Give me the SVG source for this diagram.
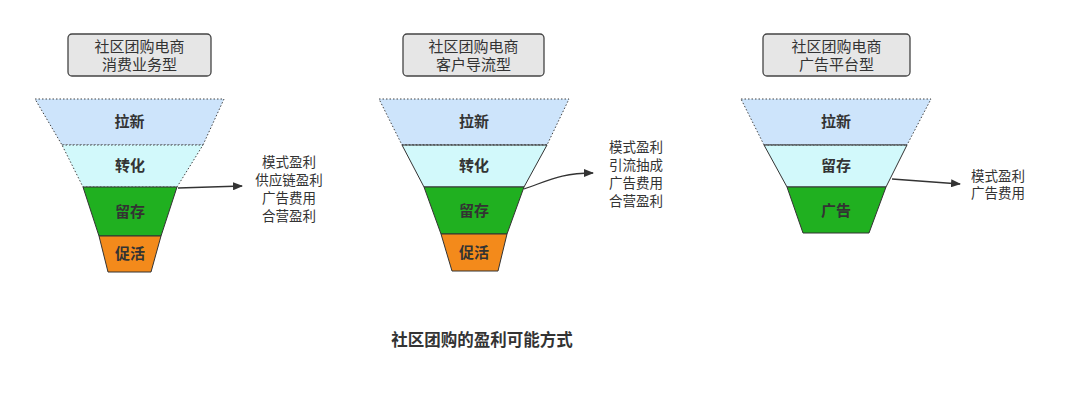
<svg xmlns="http://www.w3.org/2000/svg" width="1080" height="404" viewBox="0 0 1080 404">
<style>
text{font-family:"Liberation Sans","Noto Sans CJK SC",sans-serif;fill:#333;}
.title rect{fill:#e6e6e6;stroke:#444;stroke-width:1.3;}
.title text{font-size:15px;text-anchor:middle;}
.lbl{font-size:15px;font-weight:bold;text-anchor:middle;}
.note{font-size:13.5px;text-anchor:middle;}
.l1{fill:#cde4fb;stroke:#444;stroke-width:1;stroke-dasharray:1.5 2;}
.l2{fill:#d2f9fb;stroke:#444;stroke-width:1;stroke-dasharray:1.5 2;}
.l2s{fill:#d2f9fb;stroke:#333;stroke-width:1;}
.l3{fill:#20b020;stroke:#333;stroke-width:1;}
.l4{fill:#f38a1b;stroke:#333;stroke-width:1;}
.conn path{fill:none;stroke:#333;stroke-width:1.3;marker-end:url(#ah);}
</style>
<defs>
<marker id="ah" markerWidth="10" markerHeight="8" refX="9" refY="4" orient="auto" markerUnits="userSpaceOnUse">
<path d="M0,0 L10,4 L0,8 Z" fill="#333"/>
</marker>
</defs>
<rect width="1080" height="404" fill="#fff"/>

<g id="funnel1">
<g class="title" id="title1"><rect x="68" y="34" width="143" height="42" rx="4"/><text x="139.5" y="52">社区团购电商</text><text x="139.5" y="70">消费业务型</text></g>
<g id="f1-lx"><polygon class="l1" points="35,99 224,99 203,145 62,145"/><text class="lbl" x="129.5" y="127">拉新</text></g>
<g id="f1-zh"><polygon class="l2" points="62,145 203,145 177,187 83,187"/><text class="lbl" x="130" y="171">转化</text></g>
<g id="f1-lc"><polygon class="l3" points="83,187 177,187 161,236 99,236"/><text class="lbl" x="130" y="217">留存</text></g>
<g id="f1-ch"><polygon class="l4" points="99,236 161,236 151,272 108,272"/><text class="lbl" x="130" y="259">促活</text></g>
</g>
<g id="note1"><text class="note" x="289" y="167">模式盈利</text><text class="note" x="289" y="185">供应链盈利</text><text class="note" x="289" y="203">广告费用</text><text class="note" x="289" y="221">合营盈利</text></g>

<g id="funnel2">
<g class="title" id="title2"><rect x="403" y="34" width="141" height="42" rx="4"/><text x="473.5" y="52">社区团购电商</text><text x="473.5" y="70">客户导流型</text></g>
<g id="f2-lx"><polygon class="l1" points="379,99 569,99 547,145 402,145"/><text class="lbl" x="474" y="127">拉新</text></g>
<g id="f2-zh"><polygon class="l2s" points="402,145 547,145 524,187 424,187"/><line x1="402" y1="145" x2="547" y2="145" stroke="#444" stroke-dasharray="1.5 2"/><text class="lbl" x="474" y="171">转化</text></g>
<g id="f2-lc"><polygon class="l3" points="424,187 524,187 507,234 441,234"/><text class="lbl" x="474" y="216">留存</text></g>
<g id="f2-ch"><polygon class="l4" points="441,234 507,234 498,271 452,271"/><text class="lbl" x="474" y="258">促活</text></g>
</g>
<g id="note2"><text class="note" x="636" y="152">模式盈利</text><text class="note" x="636" y="170">引流抽成</text><text class="note" x="636" y="188">广告费用</text><text class="note" x="636" y="206">合营盈利</text></g>

<g id="funnel3">
<g class="title" id="title3"><rect x="763" y="34" width="147" height="42" rx="4"/><text x="836.5" y="52">社区团购电商</text><text x="836.5" y="70">广告平台型</text></g>
<g id="f3-lx"><polygon class="l1" points="741,99 931,99 907,145 764,145"/><text class="lbl" x="836" y="127">拉新</text></g>
<g id="f3-lc"><polygon class="l2s" points="764,145 907,145 886,187 787,187"/><line x1="764" y1="145" x2="907" y2="145" stroke="#444" stroke-dasharray="1.5 2"/><text class="lbl" x="836" y="171">留存</text></g>
<g id="f3-gg"><polygon class="l3" points="787,187 886,187 869,233 803,233"/><text class="lbl" x="836" y="216">广告</text></g>
</g>
<g id="note3"><text class="note" x="998" y="181">模式盈利</text><text class="note" x="998" y="198">广告费用</text></g>

<g class="conn" id="connectors">
<path d="M178,188 L242,186"/>
<path d="M524,189 C550,180 562,173 593,173"/>
<path d="M892,179 L960,184"/>
</g>

<text x="482" y="346" style="font-size:16.5px;font-weight:bold;text-anchor:middle;">社区团购的盈利可能方式</text>
</svg>
